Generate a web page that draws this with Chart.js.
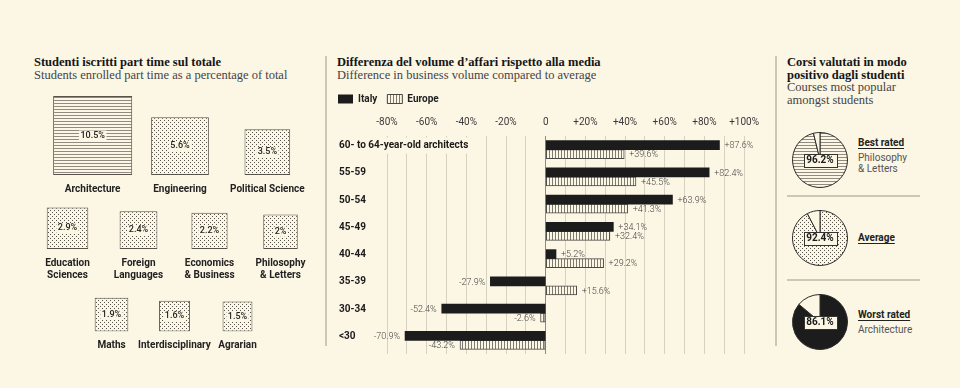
<!DOCTYPE html>
<html>
<head>
<meta charset="utf-8">
<script src="https://cdn.jsdelivr.net/npm/chart.js@4.4.1/dist/chart.umd.min.js"></script>
<style>
  body { margin: 0; width: 960px; height: 388px; background: #fcf6e4; position: relative; overflow: hidden; font-family: Roboto, sans-serif; color: #222; }
  canvas { position: absolute; }
  .title { position: absolute; top: 56px; font-family: "Liberation Serif", serif; font-size: 12.5px; line-height: 12.5px; color: #444; white-space: nowrap; }
  .title b { color: #151515; }
  .sep { position: absolute; background: #cdc7b5; }
  .rate { position: absolute; left: 858px; font-size: 10px; line-height: 11.5px; color: #555; }
  .rate b { color: #222; text-decoration: underline; text-underline-offset: 2px; display: block; margin-bottom: 3px; }
</style>
</head>
<body>
<div class="title" style="left:34px"><b>Studenti iscritti part time sul totale</b><br>Students enrolled part time as a percentage of total</div>
<div class="title" style="left:337px"><b>Differenza del volume d’affari rispetto alla media</b><br>Difference in business volume compared to average</div>
<div class="title" style="left:787px"><b>Corsi valutati in modo<br>positivo dagli studenti</b><br>Courses most popular<br>amongst students</div>

<div class="sep" style="left:325px;top:56px;width:1.5px;height:290px"></div>
<div class="sep" style="left:775px;top:56px;width:1.5px;height:290px"></div>
<div class="sep" style="left:787px;top:195px;width:133px;height:1.5px"></div>
<div class="sep" style="left:787px;top:279px;width:133px;height:1.5px"></div>

<canvas id="row1" width="330" height="117" style="left:0;top:88px"></canvas>
<canvas id="row2" width="330" height="85" style="left:0;top:200px"></canvas>
<canvas id="row3" width="330" height="63" style="left:0;top:294px"></canvas>
<canvas id="diff" width="437" height="274" style="left:330px;top:84px"></canvas>
<canvas id="pie0" width="60" height="60" style="left:790px;top:130px"></canvas>
<canvas id="pie1" width="60" height="60" style="left:790px;top:208px"></canvas>
<canvas id="pie2" width="60" height="60" style="left:790px;top:292px"></canvas>

<script>
// part-time students, % of total
const courses1 = ['Architecture', 'Engineering', 'Political Science'];
const partTime1 = [10.5, 5.6, 3.5];
const courses2 = [['Education', 'Sciences'], ['Foreign', 'Languages'], ['Economics', '& Business'], ['Philosophy', '& Letters']];
const partTime2 = [2.9, 2.4, 2.2, 2];
const courses3 = ['Maths', 'Interdisciplinary', 'Agrarian'];
const partTime3 = [1.9, 1.6, 1.5];

// business volume vs average, %
const ageGroups = ['60- to 64-year-old architects', '55-59', '50-54', '45-49', '40-44', '35-39', '30-34', '<30'];
const italy = [87.6, 82.4, 63.9, 34.1, 5.2, -27.9, -52.4, -70.9];
const europe = [39.6, 45.5, 41.3, 32.4, 29.2, 15.6, -2.6, -43.2];

// positive ratings
const ratingNames = ['Best rated', 'Average', 'Worst rated'];
const ratingCourses = [['Philosophy', '& Letters'], [], ['Architecture']];
const ratingValues = [96.2, 92.4, 86.1];

const BG = '#fcf6e4';
const INK = '#1c1c1c';

function makePattern(kind) {
  const c = document.createElement('canvas');
  const g = c.getContext('2d');
  if (kind === 'hlines') {
    c.width = 4; c.height = 3;
    g.fillStyle = BG; g.fillRect(0, 0, 4, 3);
    g.fillStyle = '#8f8b80'; g.fillRect(0, 0, 4, 1);
  } else if (kind === 'vlines') {
    c.width = 3; c.height = 4;
    g.fillStyle = BG; g.fillRect(0, 0, 3, 4);
    g.fillStyle = '#7d7a72'; g.fillRect(0, 0, 1, 4);
  } else {
    c.width = 4; c.height = 4;
    g.fillStyle = BG; g.fillRect(0, 0, 4, 4);
    g.fillStyle = '#56534c';
    g.fillRect(0, 0, 1, 1); g.fillRect(2, 2, 1, 1);
  }
  return g.createPattern(c, 'repeat');
}
const hlines = makePattern('hlines');
const vlines = makePattern('vlines');
const dots = makePattern('dots');

Chart.defaults.font.family = 'Roboto, sans-serif';
Chart.defaults.animation = false;
Chart.defaults.events = [];

// ---- left: squares with area proportional to the share ----
const PX_PER_UNIT = 24.4;

const squarePlugin = {
  id: 'squares',
  afterDatasetsUpdate(chart) {
    chart.getDatasetMeta(0).data.forEach(b => { b.width = b.base - b.y; });
  },
  afterDatasetsDraw(chart) {
    const ctx = chart.ctx;
    const vals = chart.data.datasets[0].raw;
    ctx.save();
    ctx.font = '500 9px Roboto';
    ctx.textAlign = 'center';
    ctx.textBaseline = 'middle';
    chart.getDatasetMeta(0).data.forEach((b, i) => {
      const txt = vals[i] + '%';
      const w = ctx.measureText(txt).width;
      const cy = (b.y + b.base) / 2;
      ctx.fillStyle = BG;
      ctx.fillRect(b.x - w / 2 - 1.5, cy - 5, w + 3, 10);
      ctx.fillStyle = '#222';
      ctx.fillText(txt, b.x, cy);
    });
    ctx.restore();
  }
};

function squareRow(id, labels, values, fills, areaH, axisH, padL, padR) {
  new Chart(document.getElementById(id), {
    type: 'bar',
    data: {
      labels,
      datasets: [{
        data: values.map(Math.sqrt),
        raw: values,
        backgroundColor: fills,
        borderColor: '#55524b',
        borderWidth: 1,
        borderSkipped: false
      }]
    },
    options: {
      responsive: false,
      layout: { padding: { left: padL, right: padR, top: 0, bottom: 0 } },
      plugins: { legend: { display: false }, tooltip: { enabled: false } },
      scales: {
        x: {
          grid: { display: false, drawTicks: false },
          border: { display: false },
          ticks: { color: '#222', font: { size: 10, weight: 'bold', lineHeight: 1.2 }, padding: 8, maxRotation: 0, autoSkip: false },
          afterFit: s => { s.height = axisH; }
        },
        y: { display: false, min: 0, max: areaH / PX_PER_UNIT }
      }
    },
    plugins: [squarePlugin]
  });
}

squareRow('row1', courses1, partTime1, [hlines, dots, dots], 87, 30, 49, 19);
squareRow('row2', courses2, partTime2, dots, 49, 36, 32, 14);
squareRow('row3', courses3, partTime3, dots, 37.5, 25.5, 80, 61);

// ---- middle: horizontal grouped bars ----
const barLabels = {
  id: 'barLabels',
  afterLayout(chart) {
    chart.legend.left -= 11;
  },
  afterDatasetsDraw(chart) {
    const ctx = chart.ctx;
    ctx.save();
    ctx.font = '300 9px Roboto';
    ctx.fillStyle = '#444';
    ctx.textBaseline = 'middle';
    chart.data.datasets.forEach((ds, di) => {
      chart.getDatasetMeta(di).data.forEach((bar, i) => {
        const v = ds.data[i];
        const txt = (v > 0 ? '+' : '') + v.toFixed(1) + '%';
        ctx.textAlign = v >= 0 ? 'left' : 'right';
        ctx.fillText(txt, bar.x + (v >= 0 ? 5 : -5), bar.y + 1);
      });
    });
    ctx.restore();
  }
};

new Chart(document.getElementById('diff'), {
  type: 'bar',
  data: {
    labels: ageGroups,
    datasets: [
      { label: 'Italy', data: italy, backgroundColor: INK, borderColor: INK, borderWidth: 0, barThickness: 9 },
      { label: 'Europe', data: europe, backgroundColor: vlines, borderColor: '#4a4843', borderWidth: 1, borderSkipped: false, barThickness: 9 }
    ]
  },
  options: {
    responsive: false,
    indexAxis: 'y',
    layout: { padding: { left: 9, right: 20, top: 0, bottom: 4 } },
    plugins: {
      legend: {
        position: 'top',
        align: 'start',
        labels: { boxWidth: 15, boxHeight: 9, padding: 10, color: '#222', font: { size: 10, weight: 'bold' } }
      },
      tooltip: { enabled: false }
    },
    scales: {
      x: {
        position: 'top',
        min: -80,
        max: 100,
        grid: { color: c => (c.tick && c.tick.value === 0 ? '#8c8a84' : '#d6d1c0'), drawTicks: false },
        border: { display: false },
        ticks: {
          stepSize: 10,
          autoSkip: false,
          maxRotation: 0,
          padding: 8,
          color: '#3a3a3a',
          font: { size: 10, lineHeight: 1.2 },
          callback: v => (v === 0 ? '0' : v % 20 !== 0 ? '' : (v > 0 ? '+' : '') + v + '%')
        },
        afterFit: s => { s.height = 22; }
      },
      y: {
        grid: { display: false, drawTicks: false },
        border: { display: false },
        ticks: {
          mirror: true,
          padding: -48,
          crossAlign: 'near',
          color: '#1a1a1a',
          font: { size: 10, weight: 'bold' },
          labelOffset: -4,
          showLabelBackdrop: true,
          backdropColor: BG,
          backdropPadding: 2
        },
        afterFit: s => { s.width = 48; }
      }
    }
  },
  plugins: [barLabels]
});

// ---- right: pies ----
const pieFills = [hlines, dots, INK];

const pieLabel = {
  id: 'pieLabel',
  afterDatasetsDraw(chart) {
    const arc = chart.getDatasetMeta(0).data[0];
    const ctx = chart.ctx;
    const txt = chart.data.datasets[0].data[0] + '%';
    ctx.save();
    ctx.font = 'bold 10px Roboto';
    const w = ctx.measureText(txt).width;
    const bx = Math.round(arc.x - w / 2 - 2.5) + 0.5;
    const by = Math.round(arc.y - 6.5) + 0.5;
    ctx.fillStyle = BG;
    ctx.strokeStyle = '#333';
    ctx.lineWidth = 1;
    ctx.fillRect(bx, by, Math.round(w + 5), 13);
    ctx.strokeRect(bx, by, Math.round(w + 5), 13);
    ctx.fillStyle = '#1a1a1a';
    ctx.textAlign = 'center';
    ctx.textBaseline = 'middle';
    ctx.fillText(txt, arc.x, arc.y + 0.5);
    ctx.restore();
  }
};

const nameTops = [137, 232, 309];
ratingValues.forEach((v, i) => {
  new Chart(document.getElementById('pie' + i), {
    type: 'pie',
    data: {
      labels: ['positive', 'other'],
      datasets: [{ data: [v, +(100 - v).toFixed(1)], backgroundColor: [pieFills[i], BG], borderColor: '#2a2a2a', borderWidth: 1 }]
    },
    options: {
      responsive: false,
      layout: { padding: 2 },
      plugins: { legend: { display: false }, tooltip: { enabled: false } }
    },
    plugins: [pieLabel]
  });
  const d = document.createElement('div');
  d.className = 'rate';
  d.style.top = nameTops[i] + 'px';
  d.innerHTML = '<b>' + ratingNames[i] + '</b>' + ratingCourses[i].join('<br>');
  document.body.appendChild(d);
});
</script>
</body>
</html>
